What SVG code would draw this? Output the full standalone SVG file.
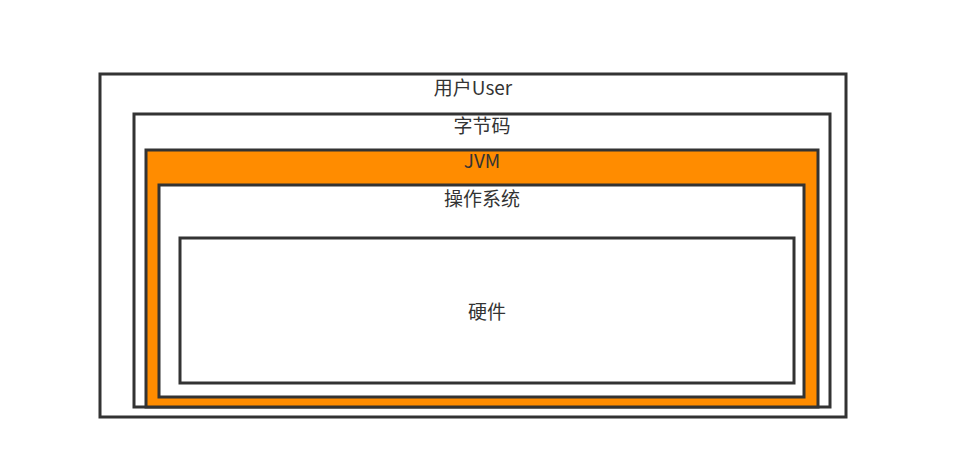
<svg xmlns="http://www.w3.org/2000/svg" width="964" height="451" viewBox="0 0 964 451">
<style>
.box{fill:#ffffff;stroke:#333333;stroke-width:3}
.jvm{fill:#ff8c00;stroke:#333333;stroke-width:3}
.lbl{font-family:"Microsoft YaHei","Noto Sans CJK SC","Liberation Sans",sans-serif;font-size:19px;fill:#333333;text-anchor:middle}
</style>
<rect width="964" height="451" fill="#ffffff"/>
<g id="user">
<rect class="box" x="100" y="74" width="746" height="343"/>
<text class="lbl" x="473" y="95">用户User</text>
</g>
<g id="bytecode">
<rect class="box" x="134" y="114" width="696" height="293"/>
<text class="lbl" x="482" y="133">字节码</text>
</g>
<g id="jvm">
<rect class="jvm" x="146" y="150" width="672" height="257"/>
<text class="lbl" x="482" y="168">JVM</text>
</g>
<g id="os">
<rect class="box" x="159" y="185" width="645" height="212"/>
<text class="lbl" x="482" y="206">操作系统</text>
</g>
<g id="hardware">
<rect class="box" x="180" y="238" width="614" height="145"/>
<text class="lbl" x="487" y="319">硬件</text>
</g>
<g id="connectors"></g>
</svg>
